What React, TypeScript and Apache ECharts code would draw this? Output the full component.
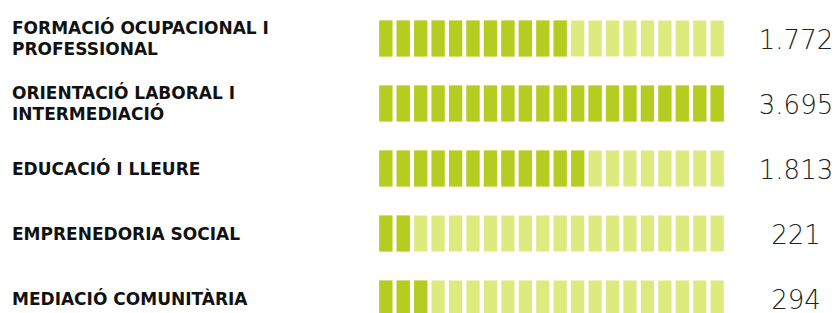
import React, { useEffect, useRef } from "react";
import * as echarts from "echarts";

const categories = [
  "FORMACIÓ OCUPACIONAL I\nPROFESSIONAL",
  "ORIENTACIÓ LABORAL I\nINTERMEDIACIÓ",
  "EDUCACIÓ I LLEURE",
  "EMPRENEDORIA SOCIAL",
  "MEDIACIÓ COMUNITÀRIA",
];
const values = [1772, 3695, 1813, 221, 294];
const filledBlocks = [11, 20, 12, 2, 3];
const totalBlocks = 20;

const DARK = "#b5cc21";
const LIGHT = "#dcea7e";

function fmt(v: number): string {
  return String(v).replace(/\B(?=(\d{3})+(?!\d))/g, ".");
}

export default function App() {
  const ref = useRef<HTMLDivElement>(null);
  useEffect(() => {
    if (!ref.current) return;
    const chart = echarts.init(ref.current, null, { renderer: "svg" });
    chart.setOption({
      animation: false,
      backgroundColor: "#ffffff",
      grid: { left: 379, width: 345, top: 6, height: 325, containLabel: false },
      xAxis: { type: "value", min: 0, max: totalBlocks, show: false },
      yAxis: {
        type: "category",
        inverse: true,
        data: categories,
        axisLine: { show: false },
        axisTick: { show: false },
        splitLine: { show: false },
        axisLabel: {
          align: "left",
          margin: 367,
          fontFamily: "DejaVu Sans",
          fontWeight: "bold",
          fontSize: 17,
          lineHeight: 21,
          color: "#111111",
        },
      },
      series: [
        {
          type: "pictorialBar",
          symbol: "rect",
          symbolRepeat: totalBlocks,
          symbolBoundingData: totalBlocks,
          symbolSize: [13, 36],
          symbolMargin: 2,
          z: 1,
          itemStyle: { color: LIGHT, borderColor: "#eef5c4", borderWidth: 1 },
          label: {
            show: true,
            position: "right",
            distance: 72,
            align: "center",
            offset: [0, 1],
            fontFamily: "DejaVu Sans",
            fontWeight: 200,
            fontSize: 26,
            lineHeight: 20,
            color: "#222222",
            formatter: (p: any) => fmt(values[p.dataIndex]),
          },
          data: categories.map(() => totalBlocks),
        },
        {
          type: "pictorialBar",
          symbol: "rect",
          symbolRepeat: totalBlocks,
          symbolBoundingData: totalBlocks,
          symbolClip: true,
          symbolSize: [13, 36],
          symbolMargin: 2,
          barGap: "-100%",
          z: 2,
          itemStyle: { color: DARK, borderColor: "#dfeba0", borderWidth: 1 },
          data: filledBlocks,
        },
      ],
    });
    return () => chart.dispose();
  }, []);
  return (
    <div
      style={{
        position: "absolute",
        left: 0,
        top: 0,
        width: 839,
        height: 313,
        overflow: "hidden",
        background: "#ffffff",
      }}
    >
      <div ref={ref} style={{ width: 839, height: 340 }} />
    </div>
  );
}
